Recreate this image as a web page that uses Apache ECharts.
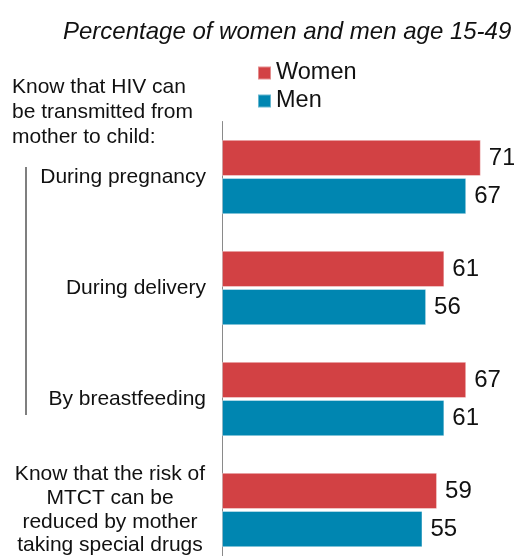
<!DOCTYPE html>
<html>
<head>
<meta charset="utf-8">
<script src="https://cdn.jsdelivr.net/npm/echarts@6/dist/echarts.min.js"></script>
<style>
  html, body { margin: 0; padding: 0; background: #fff; }
  #chart { width: 514px; height: 556px; }
</style>
</head>
<body>
<div id="chart"></div>
<script>
// Knowledge of mother-to-child transmission of HIV
const categories = [
  'During pregnancy',
  'During delivery',
  'By breastfeeding',
  'Know that the risk of\nMTCT can be\nreduced by mother\ntaking special drugs'
];
const seriesNames = ['Women', 'Men'];
const womenValues = [71, 61, 67, 59];
const menValues = [67, 56, 61, 55];

const FONT = '"Liberation Sans", Arial, sans-serif';
const RED = '#d24144';
const BLUE = '#0086b1';

const chart = echarts.init(document.getElementById('chart'), null, { renderer: 'canvas' });

const valueLabel = { show: true, position: 'right', distance: 8, fontFamily: FONT, fontSize: 24, color: '#111' };

chart.setOption({
  animation: false,
  backgroundColor: '#ffffff',
  title: {
    text: 'Percentage of women and men age 15-49',
    left: 63,
    top: 20,
    padding: 0,
    textStyle: { fontFamily: FONT, fontSize: 24, fontStyle: 'italic', fontWeight: 'normal', color: '#111' }
  },
  legend: {
    orient: 'vertical',
    left: 252,
    top: 56,
    itemWidth: 13,
    itemHeight: 13,
    itemGap: 4,
    icon: 'rect',
    data: seriesNames,
    textStyle: { fontFamily: FONT, fontSize: 23.5, color: '#111', lineHeight: 24 }
  },
  grid: { left: 222, top: 121.5, width: 291.6, height: 444, containLabel: false, outerBoundsMode: 'none' },
  xAxis: {
    type: 'value',
    min: 0,
    max: 80,
    show: false
  },
  yAxis: {
    type: 'category',
    inverse: true,
    data: categories,
    axisLine: { show: true, lineStyle: { color: '#8a8a8a', width: 1 } },
    axisTick: { show: false },
    axisLabel: {
      margin: 16,
      fontFamily: FONT,
      fontSize: 21,
      color: '#111',
      formatter: function (v) {
        if (v.indexOf('\n') >= 0) {
          return v.split('\n').map(function (s) { return '{m|' + s + '}'; }).join('\n');
        }
        return v;
      },
      rich: {
        m: { width: 192, align: 'center', fontFamily: FONT, fontSize: 21, color: '#111', lineHeight: 23.7 }
      }
    }
  },
  series: [
    {
      name: 'Women',
      type: 'bar',
      data: womenValues,
      barGap: '5%',
      barCategoryGap: '33%',
      itemStyle: { color: RED, borderColor: 'rgba(255,255,255,0.4)', borderWidth: 1 },
      label: valueLabel
    },
    {
      name: 'Men',
      type: 'bar',
      data: menValues,
      barGap: '5%',
      barCategoryGap: '33%',
      itemStyle: { color: BLUE, borderColor: 'rgba(255,255,255,0.4)', borderWidth: 1 },
      label: valueLabel
    }
  ],
  graphic: [
    {
      type: 'text',
      left: 12,
      top: 75,
      style: {
        text: 'Know that HIV can\nbe transmitted from\nmother to child:',
        font: '21px ' + FONT,
        fill: '#111',
        lineHeight: 25
      }
    },
    {
      type: 'line',
      shape: { x1: 26, y1: 167, x2: 26, y2: 415 },
      style: { stroke: '#7f7f7f', lineWidth: 2 }
    }
  ]
});
</script>
</body>
</html>
